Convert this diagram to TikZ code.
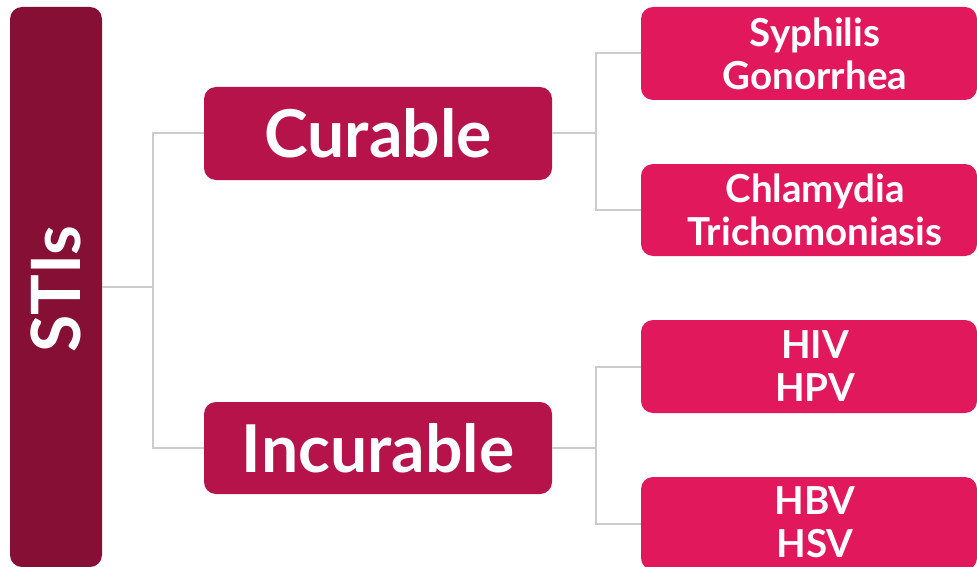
\documentclass[tikz,border=0pt]{standalone}
\usepackage{fontspec}
\setmainfont{Lato}
\definecolor{dark}{HTML}{850F35}
\definecolor{mid}{HTML}{B51349}
\definecolor{pinkc}{HTML}{E1195C}
\definecolor{lineg}{HTML}{CCCCCC}
\begin{document}
\begin{tikzpicture}[x=1pt,y=-1pt,
  box/.style={rounded corners=12pt, inner sep=0pt, align=center, text=white, font=\bfseries},
  bigtxt/.style={font=\bfseries\fontsize{66}{72}\selectfont},
  smalltxt/.style={font=\bfseries\fontsize{38.5}{43}\selectfont, text=white, align=center, inner sep=0pt},
  conn/.style={draw=lineg, line width=2pt}]
\useasboundingbox (0,0) rectangle (977,567);
\clip (0,0) rectangle (977,567);
\fill[white] (0,0) rectangle (977,567);
\node[box, fill=dark, minimum width=92pt, minimum height=560pt] (stis) at (56,287) {};
\node[font=\bfseries\fontsize{68}{72}\selectfont, text=white, rotate=90] (stistxt) at (56,289) {STIs};
\node[box, bigtxt, fill=mid, minimum width=348pt, minimum height=93pt] (cur) at (378,133.5) {Curable};
\node[box, bigtxt, fill=mid, minimum width=348pt, minimum height=92pt] (inc) at (378,448) {Incurable};
\node[box, fill=pinkc, minimum width=336pt, minimum height=93pt] (r1) at (809,53.5) {};
\node[box, fill=pinkc, minimum width=336pt, minimum height=92pt] (r2) at (809,210) {};
\node[box, fill=pinkc, minimum width=336pt, minimum height=93pt] (r3) at (809,366.5) {};
\node[box, fill=pinkc, minimum width=336pt, minimum height=93pt] (r4) at (809,523.5) {};
\node[smalltxt] (r1t) at ([xshift=6pt]r1.center) {Syphilis\\Gonorrhea};
\node[smalltxt] (r2t) at ([xshift=6pt]r2.center) {Chlamydia\\Trichomoniasis};
\node[smalltxt] (r3t) at ([xshift=6pt]r3.center) {HIV\\HPV};
\node[smalltxt] (r4t) at ([xshift=6pt,yshift=1.5pt]r4.center) {HBV\\HSV};
\draw[conn] (stis.east) -- ++(51,0) coordinate (j1);
\draw[conn] (j1) |- (cur.west);
\draw[conn] (j1) |- (inc.west);
\draw[conn] (cur.east) -- ++(44,0) coordinate (j2);
\draw[conn] (j2) |- (r1.west);
\draw[conn] (j2) |- (r2.west);
\draw[conn] (inc.east) -- ++(44,0) coordinate (j3);
\draw[conn] (j3) |- (r3.west);
\draw[conn] (j3) |- (r4.west);
\end{tikzpicture}
\end{document}
